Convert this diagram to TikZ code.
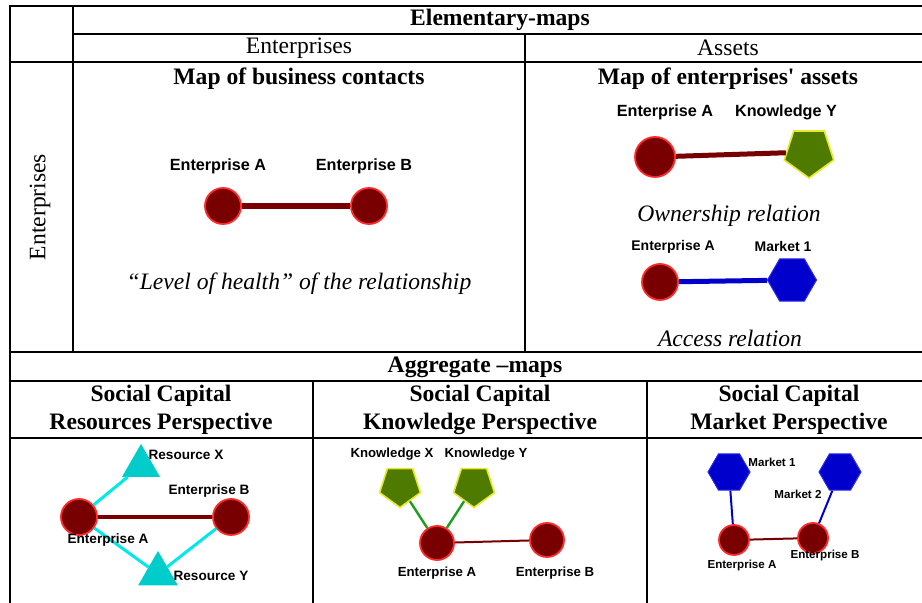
\documentclass[tikz,border=0pt]{standalone}
\usepackage{fontspec}
\setmainfont{Liberation Serif}
\newfontfamily\tabfont{Liberation Serif}
\newfontfamily\labfont{Liberation Sans}
\usetikzlibrary{shapes.geometric}
\definecolor{entfill}{HTML}{780000}
\definecolor{entline}{HTML}{FF2A2A}
\definecolor{knowfill}{HTML}{4E7A00}
\definecolor{knowline}{HTML}{E8E82A}
\definecolor{mktfill}{HTML}{0000CC}
\definecolor{mktline}{HTML}{2A2AEE}
\definecolor{resfill}{HTML}{00CCCC}
\definecolor{resline}{HTML}{00E8E8}
\definecolor{knowedge}{HTML}{1E9E1E}
\begin{document}
\begin{tikzpicture}[x=0.5pt,y=-0.5pt]
		\tikzset{grid/.style = {line width=0.85pt},
			head/.style = {font=\tabfont\fontsize{11.8}{14}\selectfont\bfseries, align=center},
			colhead/.style = {font=\tabfont\fontsize{11.8}{14}\selectfont},
			rel/.style = {font=\tabfont\fontsize{11.8}{14}\selectfont\itshape},
			lab/.style = {font=\labfont\bfseries\fontsize{#1}{#1}\selectfont, inner sep=0pt},
			ent/.style = {circle, draw=entline, fill=entfill, line width=0.9pt, inner sep=0pt, minimum size=#1},
			know/.style = {regular polygon, regular polygon sides=5, shape border rotate=180, draw=knowline, fill=knowfill, line width=0.8pt, inner sep=0pt, minimum size=#1},
			mkt/.style = {regular polygon, regular polygon sides=6, draw=mktline, fill=mktfill, line width=0.5pt, inner sep=0pt, minimum size=#1},
			res/.style = {regular polygon, regular polygon sides=3, draw=resfill, fill=resfill, line width=0.5pt, inner sep=0pt, minimum size=#1}}
		\useasboundingbox (0,0) rectangle (922,603);
		
		% table
		\draw[grid] (10,603) -- (10,6) -- (922,6);
		\draw[grid] (73,6) -- (73,352);
		\draw[grid] (73,34) -- (922,34);
		\draw[grid] (10,62) -- (922,62);
		\draw[grid] (525,34) -- (525,352);
		\draw[grid] (10,352) -- (922,352);
		\draw[grid] (10,381) -- (922,381);
		\draw[grid] (10,438) -- (922,438);
		\draw[grid] (313,381) -- (313,603);
		\draw[grid] (647,381) -- (647,603);
		
		% headers
		\node[head] (ELEM) at (500,20) {Elementary-maps};
		\node[colhead] (HENT) at (299,48) {Enterprises};
		\node[colhead] (HASS) at (728,48) {Assets};
		\node[colhead, rotate=90] (VENT) at (40,207) {Enterprises};
		\node[head] (MBC) at (299,79) {Map of business contacts};
		\node[head] (MEA) at (728,79) {Map of enterprises' assets};
		\node[head] (AGG) at (475,367) {Aggregate –maps};
		\node[head] (SCR) at (161,410) {Social Capital\\Resources Perspective};
		\node[head] (SCK) at (480,410) {Social Capital\\Knowledge Perspective};
		\node[head] (SCM) at (789,410) {Social Capital\\Market Perspective};
		
		% map of business contacts
		\node[ent=18pt] (A1) at (223,206) {};
		\node[ent=18pt] (B1) at (369,206) {};
		\draw[entfill, line width=3pt] (A1) -- (B1);
		\node[lab=8.1pt] (LA1) at (218,166) {Enterprise A};
		\node[lab=8.1pt] (LB1) at (364,166) {Enterprise B};
		\node[rel] (HEALTH) at (299,284) {“Level of health” of the relationship};
		
		% map of enterprises' assets
		\node[ent=20pt] (A2) at (655,157) {};
		\node[know=26pt] (KY2) at (809,152) {};
		\draw[entfill, line width=2.5pt] (A2) -- (KY2);
		\node[lab=8.1pt] (LA2) at (665,112) {Enterprise A};
		\node[lab=8.1pt] (LKY2) at (786,112) {Knowledge Y};
		\node[rel] (OWN) at (729,216) {Ownership relation};
		\node[ent=18pt] (A3) at (660,282) {};
		\node[mkt=24.5pt] (M3) at (792,280) {};
		\draw[mktfill, line width=2.5pt] (A3) -- (M3);
		\node[lab=7pt] (LA3) at (673,247) {Enterprise A};
		\node[lab=7pt] (LM3) at (783,247) {Market 1};
		\node[rel] (ACC) at (730,338) {Access relation};
		
		% resources perspective
		\node[ent=18pt] (A4) at (79,517) {};
		\node[ent=18pt] (B4) at (231,517) {};
		\node[res=21pt] (RX) at (141,466) {};
		\node[res=22pt] (RY) at (158,574) {};
		\draw[entfill, line width=2pt] (A4) -- (B4);
		\draw[resline, line width=1.5pt] (A4) -- (RX);
		\draw[resline, line width=1.5pt] (A4) -- (RY);
		\draw[resline, line width=1.5pt] (B4) -- (RY);
		\node[lab=6.8pt] (LRX) at (186,455) {Resource X};
		\node[lab=6.8pt] (LB4) at (209,491) {Enterprise B};
		\node[lab=6.8pt] (LA4) at (108,540) {Enterprise A};
		\node[lab=6.8pt] (LRY) at (211,576) {Resource Y};
		
		% knowledge perspective
		\node[ent=17pt] (A5) at (437,543) {};
		\node[ent=17pt] (B5) at (547,540) {};
		\node[know=21.5pt] (KX5) at (400,486) {};
		\node[know=21.5pt] (KY5) at (474,486) {};
		\draw[entfill, line width=1pt] (A5) -- (B5);
		\draw[knowedge, line width=1.2pt] (KX5) -- (A5);
		\draw[knowedge, line width=1.2pt] (KY5) -- (A5);
		\node[lab=6.6pt] (LKX5) at (392,454) {Knowledge X};
		\node[lab=6.6pt] (LKY5) at (486,454) {Knowledge Y};
		\node[lab=6.6pt] (LA5) at (437,573) {Enterprise A};
		\node[lab=6.6pt] (LB5) at (555,573) {Enterprise B};
		
		% market perspective
		\node[ent=15pt] (A6) at (734,540) {};
		\node[ent=15pt] (B6) at (813,538) {};
		\node[mkt=21pt] (M1) at (729,472) {};
		\node[mkt=21pt] (M2) at (840,472) {};
		\draw[entfill, line width=1pt] (A6) -- (B6);
		\draw[mktfill, line width=1pt] (M1) -- (A6);
		\draw[mktfill, line width=1pt] (M2) -- (B6);
		\node[lab=5.8pt] (LM1) at (772,462) {Market 1};
		\node[lab=5.8pt] (LM2) at (798,494) {Market 2};
		\node[lab=5.8pt] (LA6) at (742,566) {Enterprise A};
		\node[lab=5.8pt] (LB6) at (825,556) {Enterprise B};
		
\end{tikzpicture}
\end{document}
